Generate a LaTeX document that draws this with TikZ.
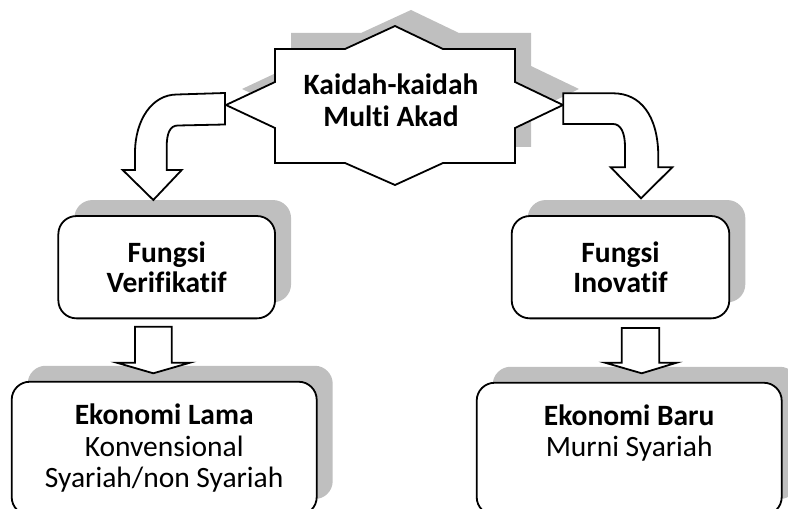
\documentclass[tikz,border=0pt]{standalone}
\usepackage{fontspec}
\setmainfont[Ligatures=NoCommon]{Carlito}
\usetikzlibrary{shadows}
\definecolor{shadowgray}{RGB}{191,191,191}
\tikzset{
  outline/.style={draw=black, line width=1.8bp, line join=miter},
  blockarrow/.style={outline, fill=white},
  box/.style={outline, fill=white, rounded corners=18bp, align=center, inner sep=0pt,
    font=\fontsize{29.5bp}{31.5bp}\selectfont,
    drop shadow={shadow xshift=16bp, shadow yshift=16bp, fill=shadowgray, opacity=1}},
  title/.style={align=center, inner sep=0pt, font=\fontsize{29.5bp}{32bp}\selectfont\bfseries}
}
\begin{document}
\begin{tikzpicture}[x=1bp, y=-1bp]
  \useasboundingbox (0,0) rectangle (788,509);
  \clip (0,0) rectangle (788,509);

  % eight-point star: shadow first, then the white shape
  \def\starpath{(275,49) -- (345,49) -- (395,26) -- (443,49) -- (515,49) -- (515,82)
    -- (563,105) -- (515,128) -- (515,163) -- (443,163) -- (395,185) -- (345,163)
    -- (275,163) -- (275,128) -- (226,105) -- (275,82) -- cycle}
  \fill[shadowgray, shift={(16,-16)}] \starpath;
  \draw[outline, fill=white] \starpath;
  \node[title] (kaidah) at (391,100) {Kaidah-kaidah\\Multi Akad};

  % function boxes
  \node[box, minimum width=216.7bp, minimum height=102.3bp, font=\fontsize{29.5bp}{30bp}\selectfont\bfseries]
    (fv) at (166.7,267.2) {Fungsi\\Verifikatif};
  \node[box, minimum width=217.6bp, minimum height=102.3bp, font=\fontsize{29.5bp}{30bp}\selectfont\bfseries]
    (fi) at (620.5,267.2) {Fungsi\\Inovatif};

  % economy boxes
  \node[box, minimum width=305bp, minimum height=133.3bp]
    (el) at (164.2,448.4) {\textbf{Ekonomi Lama}\\Konvensional\\Syariah/non Syariah};
  \node[box, minimum width=305bp, minimum height=132.3bp]
    (eb) at (629.2,448.9) {\textbf{Ekonomi Baru}\\Murni Syariah\\\vphantom{Syariah}};

  % bent arrows from the star to the function boxes
  \draw[blockarrow] (225,93) -- (177,94.5)
    .. controls (152,94.5) and (135,120) .. (135,153)
    -- (135,170) -- (122.7,170) -- (153.3,200) -- (181.7,170) -- (166.7,170) -- (166.7,147)
    .. controls (166.7,133) and (170,125.5) .. (178,125.5)
    -- (225,124.5) -- cycle;
  \draw[blockarrow] (563.3,93.3) -- (613.3,93.3)
    .. controls (640,93.3) and (658.3,115) .. (658.3,157)
    -- (658.3,167.3) -- (672.3,167.3) -- (641,198.3) -- (610.7,167.3) -- (625,167.3) -- (625,147)
    .. controls (625,133) and (621,124) .. (613,124)
    -- (563.3,124) -- cycle;

  % straight arrows from the function boxes to the economy boxes
  \draw[blockarrow] (135,326.7) -- (171.7,326.7) -- (171.7,362.7) -- (190,362.7)
    -- (153.3,373.3) -- (116.7,362.7) -- (135,362.7) -- cycle;
  \draw[blockarrow] (621.7,328) -- (659.3,328) -- (659.3,362.7) -- (676.7,362.7)
    -- (641.7,373.3) -- (605,362.7) -- (621.7,362.7) -- cycle;
\end{tikzpicture}
\end{document}
